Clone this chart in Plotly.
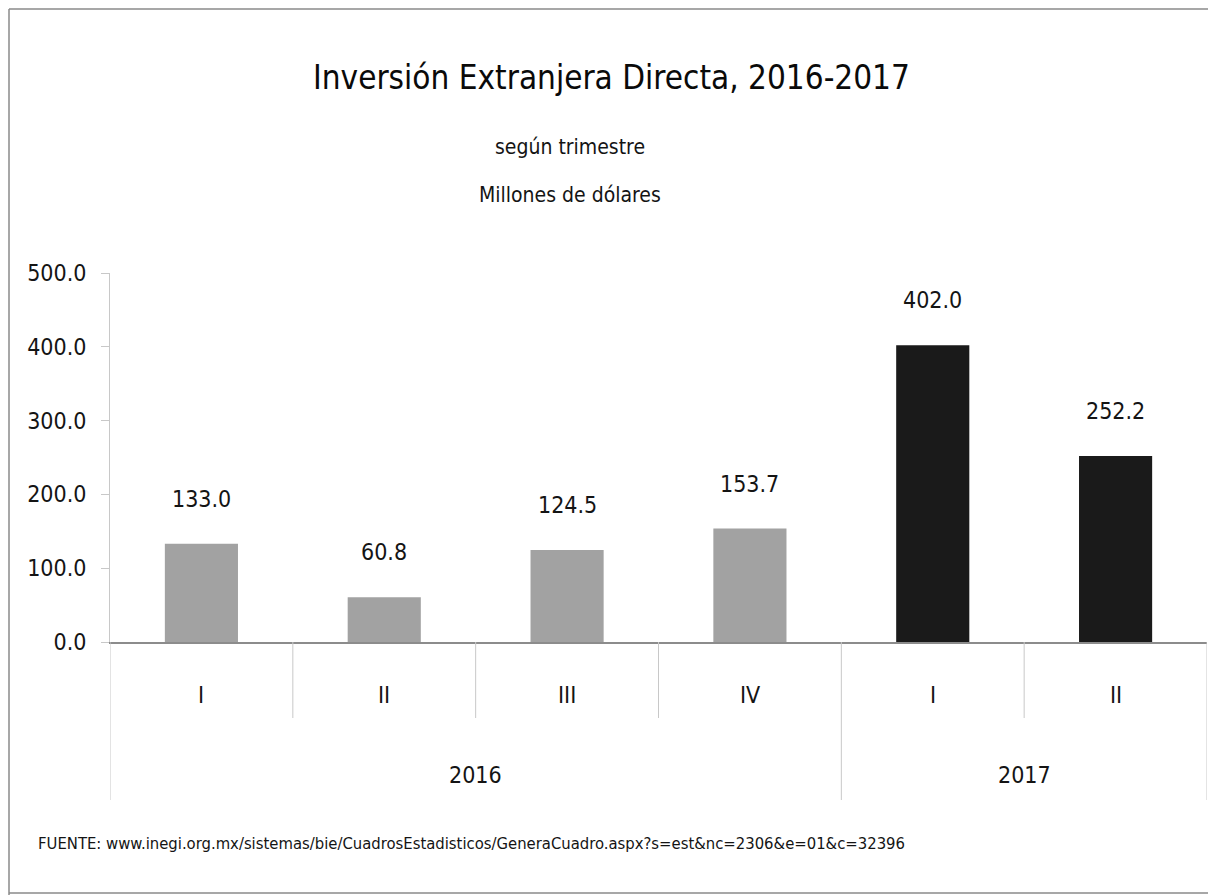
import plotly.graph_objects as go

# ---- data ----
quarters = ["I", "II", "III", "IV", "I", "II"]
years = ["2016", "2016", "2016", "2016", "2017", "2017"]
values = [133.0, 60.8, 124.5, 153.7, 402.0, 252.2]
bar_colors = ["#a2a2a2", "#a2a2a2", "#a2a2a2", "#a2a2a2", "#1a1a1a", "#1a1a1a"]
y_ticks = [0, 100, 200, 300, 400, 500]
y_tick_labels = ["0.0", "100.0", "200.0", "300.0", "400.0", "500.0"]
title = "Inversión Extranjera Directa, 2016-2017"
subtitle1 = "según trimestre"
subtitle2 = "Millones de dólares"
source = "FUENTE: www.inegi.org.mx/sistemas/bie/CuadrosEstadisticos/GeneraCuadro.aspx?s=est&nc=2306&e=01&c=32396"

FONT = "DejaVu Sans Condensed, Liberation Sans Narrow, Lato, sans-serif"
OFF = 8  # page body margin
W, H = 1216 - OFF, 895 - OFF
# plot area in page pixels: x 110..1207, y 273..642
ML = 110 - OFF
MT = 273 - OFF
MR = W - (1207 - OFF)
MB = H - (642 - OFF)
PW, PH = W - ML - MR, H - MT - MB


def py(pix):  # page pixel y -> paper y
    return (642 - pix) / PH


def px(pix):  # page pixel x -> paper x
    return (pix - 110) / PW


xs = list(range(len(values)))

fig = go.Figure()
fig.add_trace(go.Bar(
    x=xs, y=values, width=0.4,
    marker=dict(color=bar_colors, line=dict(width=0)),
    hoverinfo="skip", showlegend=False,
))

annotations = []
# data labels
for x, v in zip(xs, values):
    annotations.append(dict(x=x, y=v, xref="x", yref="y", text=f"{v:.1f}",
                            showarrow=False, yanchor="bottom", yshift=30,
                            font=dict(size=23, color="#141414", family=FONT)))
# quarter labels
for x, q in zip(xs, quarters):
    annotations.append(dict(x=x, y=py(695), xref="x", yref="paper", text=q,
                            showarrow=False, yanchor="middle",
                            font=dict(size=23, color="#141414", family=FONT)))
# year labels and separators
shapes = []
groups = []
for i, yv in enumerate(years):
    if not groups or groups[-1][0] != yv:
        groups.append([yv, i, i])
    else:
        groups[-1][2] = i
for yv, a, b in groups:
    annotations.append(dict(x=(a + b) / 2, y=py(775), xref="x", yref="paper", text=yv,
                            showarrow=False, yanchor="middle",
                            font=dict(size=23, color="#141414", family=FONT)))
    shapes.append(dict(type="line", xref="x", yref="paper", x0=a - 0.5, x1=a - 0.5,
                       y0=0, y1=py(800), line=dict(color="#c8c8c8", width=1)))
    for k in range(a + 1, b + 1):
        shapes.append(dict(type="line", xref="x", yref="paper", x0=k - 0.5, x1=k - 0.5,
                           y0=0, y1=py(718), line=dict(color="#c8c8c8", width=1)))
shapes.append(dict(type="line", xref="x", yref="paper", x0=len(xs) - 0.5, x1=len(xs) - 0.5,
                   y0=0, y1=py(800), line=dict(color="#c8c8c8", width=1)))

# titles
annotations.append(dict(x=px(611), y=py(78), xref="paper", yref="paper", text=title,
                        showarrow=False, yanchor="middle",
                        font=dict(size=33, color="#0a0a0a", family=FONT)))
annotations.append(dict(x=px(570), y=py(147), xref="paper", yref="paper", text=subtitle1,
                        showarrow=False, yanchor="middle",
                        font=dict(size=21, color="#141414", family=FONT)))
annotations.append(dict(x=px(570), y=py(195), xref="paper", yref="paper", text=subtitle2,
                        showarrow=False, yanchor="middle",
                        font=dict(size=21, color="#141414", family=FONT)))
annotations.append(dict(x=px(36), y=py(843), xref="paper", yref="paper", text=source,
                        showarrow=False, xanchor="left", yanchor="middle",
                        font=dict(size=16.5, color="#141414", family=FONT)))

# page border (top, left, bottom)
for (x0, y0, x1, y1) in [(OFF + 1, OFF + 1, 1216, OFF + 1), (OFF + 1, OFF + 1, OFF + 1, 895),
                         (OFF + 1, 893, 1216, 893)]:
    shapes.append(dict(type="line", xref="paper", yref="paper",
                       x0=px(x0), x1=px(x1), y0=py(y0), y1=py(y1),
                       line=dict(color="#8a8a8a", width=1.5)))

fig.update_layout(
    width=W, height=H,
    margin=dict(l=ML, r=MR, t=MT, b=MB, autoexpand=False),
    paper_bgcolor="white", plot_bgcolor="white",
    font=dict(family=FONT, color="#141414"),
    annotations=annotations, shapes=shapes,
    bargap=0.6,
    xaxis=dict(range=[-0.5, len(xs) - 0.5], showticklabels=False, showgrid=False,
               zeroline=False, showline=True, linecolor="#8c8c8c", linewidth=1.5,
               ticks=""),
    yaxis=dict(range=[0, 500], tickvals=y_ticks, ticktext=y_tick_labels,
               showgrid=False, zeroline=False, showline=True, linecolor="#c8c8c8",
               linewidth=1, ticks="outside", ticklen=8, tickcolor="#c8c8c8",
               tickfont=dict(size=23, color="#141414", family=FONT), ticklabelstandoff=10),
)

fig.write_html("out.html")
